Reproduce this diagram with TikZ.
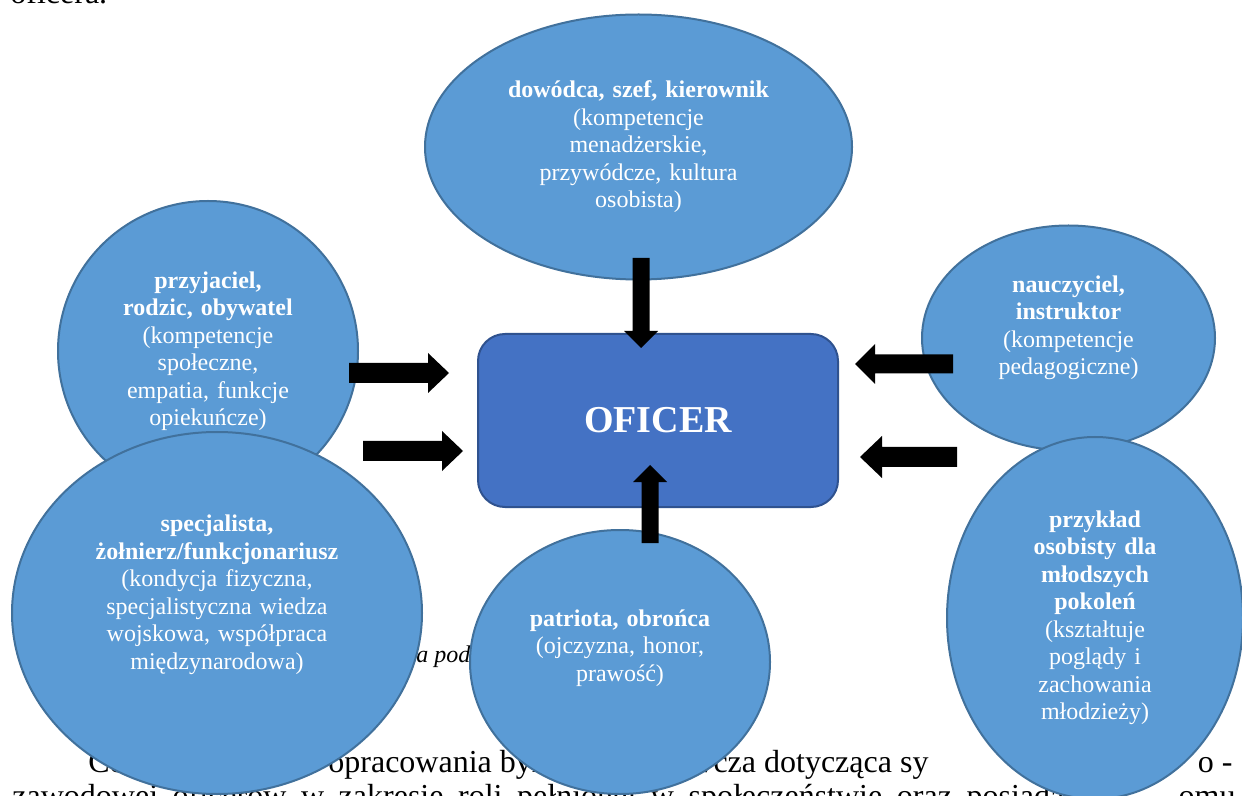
\documentclass[tikz,border=0pt]{standalone}
\usepackage{fontspec}
\setmainfont{Liberation Serif}
\usetikzlibrary{calc,shapes.geometric}
\definecolor{ellfill}{HTML}{5B9BD5}
\definecolor{elldraw}{HTML}{41719C}
\definecolor{boxfill}{HTML}{4472C4}
\definecolor{boxdraw}{HTML}{2F528F}
\tikzset{
  role/.style={ellipse, fill=ellfill, draw=elldraw, line width=1pt, inner sep=0pt,
    text=white, align=center, font=\fontsize{12pt}{13.75pt}\selectfont},
  bodytext/.style={font=\fontsize{16pt}{19pt}\selectfont, inner sep=0pt, anchor=base west},
  centerbox/.style={draw=boxdraw, fill=boxfill, line width=1pt, rounded corners=13.5pt,
    inner sep=0pt, text=white, font=\fontsize{19pt}{22pt}\selectfont\bfseries},
  blockfill/.style={fill=black},
}
% #1 from, #2 to, #3 shaft half width, #4 head half width, #5 head length
\newcommand\blockarrow[5]{%
  \coordinate (ba-c) at ($(#2)!#5!(#1)$);
  \fill[blockfill] ($(#1)!#3!90:(#2)$) -- ($(ba-c)!#3!90:(#2)$) -- ($(ba-c)!#4!90:(#2)$)
    -- (#2) -- ($(ba-c)!#4!-90:(#2)$) -- ($(ba-c)!#3!-90:(#2)$) -- ($(#1)!#3!-90:(#2)$) -- cycle;
}
\begin{document}
\begin{tikzpicture}[x=0.5pt,y=-0.5pt]
\useasboundingbox (0,0) rectangle (1242,796);
\fill[white] (0,0) rectangle (1242,796);

% background document text
\node[bodytext] (t0) at (10,4) {oficera.};
\node[bodytext] (t1a) at (88,772) {Ce};
\node[bodytext] (t1b) at (328,772) {opracowania był};
\node[bodytext] (t1c) at (690,772) {wcza dotycząca sy};
\node[bodytext, anchor=base east] (t1d) at (1233,772) {o -};
\node[bodytext] (t2a) at (12,806) {\spaceskip=7.3pt plus 1pt zawodowej oficerów w zakresie roli pełnionej w społeczeństwie oraz posiada};
\node[bodytext, anchor=base east] (t2b) at (1236,806) {omu};
\node[font=\fontsize{12pt}{14pt}\selectfont\itshape, inner sep=0pt, anchor=base west] (cap) at (416,662) {a pod};

% roles
\node[role, minimum width=213.5pt, minimum height=132.5pt, text width=140pt] (dowodca) at (638.5,147)
  {\textbf{dowódca, szef, kierownik}\\(kompetencje\\menadżerskie,\\przywódcze, kultura\\osobista)};
\node[role, minimum width=150pt, minimum height=150pt, text width=100pt] (przyjaciel) at (208,351)
  {\textbf{przyjaciel,}\\\textbf{rodzic, obywatel}\\(kompetencje\\społeczne,\\empatia, funkcje\\opiekuńcze)};
\node[role, minimum width=205pt, minimum height=181pt, text width=138pt] (specjalista) at (217,613)
  {\textbf{specjalista,}\\\textbf{żołnierz/funkcjonariusz}\\(kondycja fizyczna,\\specjalistyczna wiedza\\wojskowa, współpraca\\międzynarodowa)\par\vspace*{18pt}};
\node[role, minimum width=150pt, minimum height=132pt, text width=100pt] (patriota) at (620,662)
  {\textbf{patriota, obrońca}\\(ojczyzna, honor,\\prawość)\par\vspace*{14pt}};
\node[role, minimum width=146.5pt, minimum height=112.5pt, text width=82pt] (nauczyciel) at (1068.5,338)
  {\textbf{nauczyciel,}\\\textbf{instruktor}\\(kompetencje\\pedagogiczne)\par\vspace*{10pt}};
\node[role, minimum width=148pt, minimum height=181pt, text width=78pt] (przyklad) at (1095,618)
  {\textbf{przykład}\\\textbf{osobisty dla}\\\textbf{młodszych}\\\textbf{pokoleń}\\(kształtuje\\poglądy i\\zachowania\\młodzieży)};

% centre
\node[centerbox, minimum width=180pt, minimum height=86.5pt] (oficer) at (658,420.5) {OFICER};

% arrows
\coordinate (a1s) at (641,258); \coordinate (a1e) at (641,348);
\coordinate (a2s) at (650,543); \coordinate (a2e) at (650,465);
\coordinate (a3s) at (349,373); \coordinate (a3e) at (449,373);
\coordinate (a4s) at (363,451); \coordinate (a4e) at (463,451);
\coordinate (a5s) at (953,364); \coordinate (a5e) at (855,364);
\coordinate (a6s) at (957,457); \coordinate (a6e) at (860,457);
\blockarrow{a1s}{a1e}{4.25pt}{8.5pt}{8.5pt}
\blockarrow{a2s}{a2e}{4.25pt}{8.5pt}{8.5pt}
\blockarrow{a3s}{a3e}{5pt}{10pt}{10.5pt}
\blockarrow{a4s}{a4e}{5pt}{10pt}{10.5pt}
\blockarrow{a5s}{a5e}{4.75pt}{10pt}{10pt}
\blockarrow{a6s}{a6e}{5pt}{10.5pt}{11pt}
\end{tikzpicture}
\end{document}
